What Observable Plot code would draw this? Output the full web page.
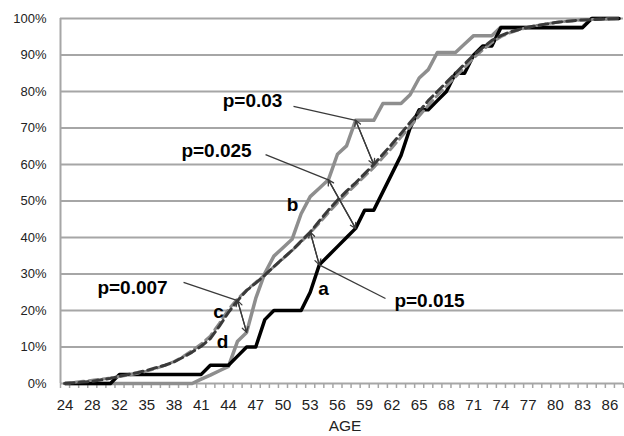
<!DOCTYPE html>
<html><head><meta charset="utf-8">
<script src="https://cdn.jsdelivr.net/npm/d3@7"></script>
<script src="https://cdn.jsdelivr.net/npm/@observablehq/plot@0.6"></script>
<style>body{margin:0;background:#fff}#chart svg{display:block}</style>
</head><body><div id="chart"></div>
<script>
// Categories (ages present on the category axis)
const ages = [24,26,27,28,30,31,32,33,34,35,36,37,38,39,40,41,42,43,44,45,46,47,48,49,50,51,52,53,54,55,56,57,58,59,60,61,62,63,64,65,66,67,68,69,70,71,72,73,74,75,76,77,78,79,80,81,82,83,84,85,86,87];
// Series a: black solid (cumulative %)
const seriesA = [0,0,0,0,0,0, 2.5,2.5,2.5,2.5,2.5,2.5,2.5,2.5,2.5,2.5, 5,5,5,7.5,10,10,17.5,20,20,20,20,25,32.5,35,37.5,40,42.5,47.5,47.5,52.5,57.5,62.5,70,75,75,77.5,80,85,85,90,92.5,92.5, 97.5,97.5,97.5,97.5,97.5,97.5,97.5,97.5,97.5,97.5, 100,100,100,100];
// Series b: gray solid
const seriesB = [0,0,0,0,0,0,0,0,0,0,0,0,0,0,0, 1.2,2.3,3.5,4.7,11.6,14,23.3,30.2,34.9,37.2,39.5,46.5,51.2,53.5,55.8,62.8,65.1,72.1,72.1,72.1,76.7,76.7,76.7,79.1,83.7,86,90.7,90.7,90.7,93,95.3,95.3,95.3, 97.7,97.7,97.7,97.7,97.7,97.7,97.7,97.7,97.7,97.7, 100,100,100,100];
// Series c: dark dashed
const seriesC = [0,0.2,0.4,0.6,1.0,1.4,2.0,2.5,3.0,3.6,4.3,5.0,5.9,7.2,8.6,10.2,12.3,15.7,19.5,22.7,25.5,27.5,29.7,32.0,34.3,36.5,39.0,41.5,44.5,47.5,50.2,52.7,55.0,57.5,60.0,62.8,65.6,68.5,71.5,74.5,77.5,80.0,82.5,85.0,87.5,90.0,92.0,94.0,95.3,96.3,97.0,97.6,98.1,98.5,98.9,99.2,99.4,99.6,99.7,99.8,99.9,100];
// Series d: gray dashed
const seriesD = [0,0.3,0.6,0.9,1.2,1.5,1.9,2.3,2.8,3.4,4.1,5.0,6.0,7.4,9.0,10.8,13.0,16.5,20.3,23.2,25.6,27.7,29.8,32.0,34.2,36.4,38.8,41.3,44.0,46.8,49.5,52.0,54.4,56.8,59.2,61.9,64.6,67.5,70.4,73.3,76.2,78.9,81.5,84.0,86.6,89.2,91.4,93.4,95.0,96.1,96.9,97.6,98.1,98.5,98.9,99.2,99.4,99.6,99.7,99.8,99.9,100];
// Tick labels
const yTicks = [0,10,20,30,40,50,60,70,80,90,100];
const xLabelAges = [24,28,32,35,38,41,44,47,50,53,56,59,62,65,68,71,74,77,80,83,86];
// Annotations: comparisons (label, from [series, age], to [series, age])
const pLabels = ["p=0.03","p=0.025","p=0.015","p=0.007"];
const pFrom = [["b",58],["b",55],["c",53],["c",45]];
const pTo   = [["c",60],["a",58],["a",54],["b",46]];
const pTextX = [20.65,16.68,40.14,7.43];
const pTextY = [77.3,63.8,22.7,26.3];
const pLeadX = [25.16,22.08,35.29,13.05];
const pLeadY = [75.9,62.7,23.3,27.7];
const pLeadTo = ["from","from","to","from"];
const curveLabels = ["a","b","c","d"];
const curveLabelX = [28.46,25.05,16.9,17.34];
const curveLabelY = [26.0,48.8,19.7,11.5];

const series = {a: seriesA, b: seriesB, c: seriesC, d: seriesD};
const rows = ages.map((age, i) => ({i, age, a: seriesA[i], b: seriesB[i], c: seriesC[i], d: seriesD[i]}));
const pt = ([s, age]) => { const i = ages.indexOf(age); return {x: i, y: series[s][i]}; };
const arrows = pLabels.map((label, k) => {
  const f = pt(pFrom[k]), t = pt(pTo[k]);
  return {label, x1: f.x, y1: f.y, x2: t.x, y2: t.y};
});
const leaders = pLabels.map((label, k) => {
  const e = pLeadTo[k] === "from" ? pt(pFrom[k]) : pt(pTo[k]);
  return {x1: pLeadX[k], y1: pLeadY[k], x2: e.x, y2: e.y};
});
const pTexts = pLabels.map((t, k) => ({t, x: pTextX[k], y: pTextY[k]}));
const cTexts = curveLabels.map((t, k) => ({t, x: curveLabelX[k], y: curveLabelY[k]}));
const boundaries = ages.map((_, i) => i - 0.5).concat([ages.length - 0.5]);
const labelIdx = xLabelAges.map(a => ages.indexOf(a));

const font = "Arial, 'Liberation Sans', sans-serif";
const chart = Plot.plot({
  width: 624, height: 436,
  marginLeft: 60, marginRight: 1, marginTop: 18, marginBottom: 53,
  style: {fontFamily: font, background: "#fff", color: "#222"},
  x: {type: "linear", domain: [-0.5, ages.length - 0.5]},
  y: {domain: [0, 100]},
  marks: [
    Plot.gridY(yTicks, {stroke: "#a6a6a6", strokeOpacity: 1, strokeWidth: 2}),
    Plot.ruleX([-0.5], {stroke: "#a6a6a6", strokeWidth: 2}),
    Plot.axisY({ticks: yTicks, tickSize: 0, tickPadding: 14, tickFormat: d => d + "%", fontSize: 13, label: null}),
    Plot.axisX({ticks: boundaries, tickSize: 5, tickFormat: () => "", stroke: "#a6a6a6", strokeWidth: 1.5, label: null}),
    Plot.axisX({ticks: labelIdx, tickSize: 0, tickPadding: 16, tickFormat: i => String(ages[i]), fontSize: 15, label: null}),
    Plot.text(["AGE"], {frameAnchor: "bottom", dy: 47, dx: 3, fontSize: 15.5, fill: "#222"}),
    Plot.line(rows, {x: "i", y: "b", stroke: "#8e8e8e", strokeWidth: 3.5}),
    Plot.line(rows, {x: "i", y: "a", stroke: "#000", strokeWidth: 3.5}),
    Plot.line(rows, {x: "i", y: "d", stroke: "#8a8a8a", strokeWidth: 3, strokeDasharray: "9,5", strokeDashoffset: 4}),
    Plot.line(rows, {x: "i", y: "c", stroke: "#3a3a3a", strokeWidth: 3, strokeDasharray: "9,5"}),
    Plot.link(leaders, {x1: "x1", y1: "y1", x2: "x2", y2: "y2", stroke: "#3a3a3a", strokeWidth: 1.3}),
    Plot.arrow(arrows, {x1: "x1", y1: "y1", x2: "x2", y2: "y2", stroke: "#3a3a3a", strokeWidth: 1.3, headLength: 7}),
    Plot.arrow(arrows, {x1: "x2", y1: "y2", x2: "x1", y2: "y1", stroke: "#3a3a3a", strokeWidth: 1.3, headLength: 7}),
    Plot.text(pTexts, {x: "x", y: "y", text: "t", fontSize: 19, fontWeight: "bold", fill: "#000", style: "letter-spacing:1px"}),
    Plot.text(cTexts, {x: "x", y: "y", text: "t", fontSize: 19, fontWeight: "bold", fill: "#000"})
  ]
});
document.getElementById("chart").append(chart);
</script>
</body></html>
